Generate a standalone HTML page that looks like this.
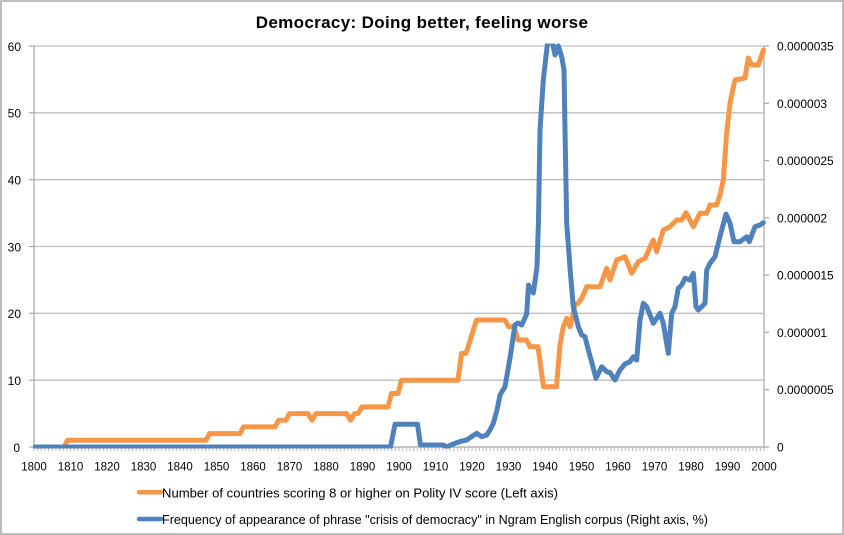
<!DOCTYPE html>
<html>
<head>
<meta charset="utf-8">
<style>
  html, body { margin: 0; padding: 0; background: #fff; }
  svg { display: block; }
  text { font-family: "Liberation Sans", sans-serif; fill: #000; }
</style>
</head>
<body>
<svg width="844" height="535" viewBox="0 0 844 535" xmlns="http://www.w3.org/2000/svg">
  <defs>
    <clipPath id="plot">
      <rect x="33" y="43.5" width="733" height="405"/>
    </clipPath>
    <pattern id="ticks" patternUnits="userSpaceOnUse" x="33.5" y="447" width="3.65" height="4">
      <rect x="0" y="0" width="1" height="4" fill="#b8b8b8"/>
    </pattern>
  </defs>

  <rect x="0" y="0" width="844" height="535" fill="#fff"/>
  <rect x="1" y="1" width="842" height="533" fill="none" stroke="#bdbdbd" stroke-width="2"/>

  <!-- Title -->
  <text x="422" y="28" text-anchor="middle" font-size="17" font-weight="bold" letter-spacing="0.35">Democracy: Doing better, feeling worse</text>

  <!-- gridlines -->
  <g stroke="#bfbfbf" stroke-width="1.3">
    <line x1="34" y1="46" x2="764" y2="46"/>
    <line x1="34" y1="112.8" x2="764" y2="112.8"/>
    <line x1="34" y1="179.7" x2="764" y2="179.7"/>
    <line x1="34" y1="246.5" x2="764" y2="246.5"/>
    <line x1="34" y1="313.3" x2="764" y2="313.3"/>
    <line x1="34" y1="380.2" x2="764" y2="380.2"/>
  </g>

  <!-- axes -->
  <g stroke="#a6a6a6" stroke-width="1.2">
    <line x1="34" y1="46" x2="34" y2="447"/>
    <line x1="764" y1="46" x2="764" y2="447"/>
    <line x1="33.5" y1="447" x2="764.5" y2="447"/>
    <line x1="29" y1="46" x2="34" y2="46"/>
    <line x1="29" y1="112.8" x2="34" y2="112.8"/>
    <line x1="29" y1="179.7" x2="34" y2="179.7"/>
    <line x1="29" y1="246.5" x2="34" y2="246.5"/>
    <line x1="29" y1="313.3" x2="34" y2="313.3"/>
    <line x1="29" y1="380.2" x2="34" y2="380.2"/>
    <line x1="29" y1="447" x2="34" y2="447"/>
    <line x1="764" y1="46" x2="769" y2="46"/>
    <line x1="764" y1="103.3" x2="769" y2="103.3"/>
    <line x1="764" y1="160.6" x2="769" y2="160.6"/>
    <line x1="764" y1="217.9" x2="769" y2="217.9"/>
    <line x1="764" y1="275.1" x2="769" y2="275.1"/>
    <line x1="764" y1="332.4" x2="769" y2="332.4"/>
    <line x1="764" y1="389.7" x2="769" y2="389.7"/>
    <line x1="764" y1="447" x2="769" y2="447"/>
  </g>
  <rect x="33.5" y="447.5" width="731.5" height="3.5" fill="url(#ticks)"/>

  <!-- left axis labels -->
  <g font-size="12" text-anchor="end">
    <text x="21" y="51">60</text>
    <text x="21" y="117.5">50</text>
    <text x="21" y="184.5">40</text>
    <text x="21" y="251.3">30</text>
    <text x="21" y="318">20</text>
    <text x="21" y="385">10</text>
    <text x="20" y="452">0</text>
  </g>

  <!-- right axis labels -->
  <g font-size="12" text-anchor="start">
    <text x="777" y="50.5">0.0000035</text>
    <text x="777" y="107.8">0.000003</text>
    <text x="777" y="165.1">0.0000025</text>
    <text x="777" y="222.4">0.000002</text>
    <text x="777" y="279.6">0.0000015</text>
    <text x="777" y="336.9">0.000001</text>
    <text x="777" y="394.2">0.0000005</text>
    <text x="777" y="451.5">0</text>
  </g>

  <!-- x axis labels -->
  <g font-size="11.5" text-anchor="middle">
    <text x="34" y="470.5">1800</text>
    <text x="70.5" y="470.5">1810</text>
    <text x="107" y="470.5">1820</text>
    <text x="143.5" y="470.5">1830</text>
    <text x="180" y="470.5">1840</text>
    <text x="216.5" y="470.5">1850</text>
    <text x="253" y="470.5">1860</text>
    <text x="289.5" y="470.5">1870</text>
    <text x="326" y="470.5">1880</text>
    <text x="362.5" y="470.5">1890</text>
    <text x="399" y="470.5">1900</text>
    <text x="435.5" y="470.5">1910</text>
    <text x="472" y="470.5">1920</text>
    <text x="508.5" y="470.5">1930</text>
    <text x="545" y="470.5">1940</text>
    <text x="581.5" y="470.5">1950</text>
    <text x="618" y="470.5">1960</text>
    <text x="654.5" y="470.5">1970</text>
    <text x="691" y="470.5">1980</text>
    <text x="727.5" y="470.5">1990</text>
    <text x="764" y="470.5">2000</text>
  </g>

  <!-- series -->
  <g clip-path="url(#plot)" fill="none" stroke-width="5" stroke-linejoin="round" stroke-linecap="round">
    <polyline stroke="#F79646" points="34,447 64,447 67.5,440.3 206,440.3 209.5,433.6 240,433.6 243.5,426.9 275,426.9 278.5,420.3 285.9,420.3 289.5,413.6 308,413.6 312,420.3 316,413.6 346.7,413.6 350.5,420.3 354.5,413.6 358,413.6 362,406.9 388,406.9 391.5,393.5 398,393.5 401.5,380.2 458,380.2 461.5,353.4 466,353.4 476.5,320 505,320 508.5,326.7 514,326.7 518,340 526.5,340 530,346.7 538,346.7 543.5,386.8 556.5,386.8 560,345 563.3,326.7 566.7,318.3 570,326.7 575,305 578.3,303 581.7,298.3 586.7,286.7 600,286.7 606.7,268.3 610,280 616.7,260 625,256.7 631.7,273.3 638.3,261.7 645,258.3 653.3,240 656.7,251.7 663.3,230 670,226.7 676.7,220 681.7,220 686,212.7 693.3,226.7 700,213.3 706.7,213.3 710,205 716.7,205 720,195 723.3,180 726.7,133 730,103 735,80 745,78 748.3,58 751.7,65 758.3,65 763.5,50"/>
    <polyline stroke="#4F81BD" points="34,447 390.5,447 395,424.3 417.5,424.3 420.5,445 443,445 447,447 451,445 456.7,442.7 462,441 466.7,440 471,437 476.7,433.3 481.7,436.7 486.7,435 490,430 493.3,423.3 497,410 500,395 505,386.7 510,358 515,325 518,323 521.7,325 526.7,314 528.5,285 531.7,291 533.3,293 537,267 538.5,220 540,130 543.3,80 546.7,50 548,40 552,40 555,55 558.3,46 561.7,56.7 564,70 565,130 566.7,223 570,268 573.3,306.7 578.3,326.7 581.7,335 585,336.7 588.3,350 591.7,362 596,378.3 601.7,366.7 606.7,371.7 610,372.7 615,380 620,370 625,364 630,361.7 633.3,356.7 636.7,360 640,320 643.3,303.3 646.7,306.7 653.3,323.3 660,313.3 663.3,323.3 668.3,353.3 671.7,313.3 675,306.7 678.3,288.3 681.7,285 685,278.3 690,280 693.3,273.3 696,306.7 698.3,310 701.7,306.7 705,303.3 706.7,270 710,263.3 715,256.7 718.3,243.3 721.7,230 726,214 730,223.3 734,241.7 740,241.7 746.7,236.7 749.3,241.7 755,226.7 760,225 763.3,222.7"/>
  </g>

  <!-- legend -->
  <line x1="139" y1="492.3" x2="161" y2="492.3" stroke="#F79646" stroke-width="4.5" stroke-linecap="round"/>
  <text x="162" y="497.5" font-size="13" textLength="396" lengthAdjust="spacingAndGlyphs">Number of countries scoring 8 or higher on Polity IV score (Left axis)</text>
  <line x1="139" y1="519" x2="161" y2="519" stroke="#4F81BD" stroke-width="4.5" stroke-linecap="round"/>
  <text x="162" y="524" font-size="13" textLength="546" lengthAdjust="spacingAndGlyphs">Frequency of appearance of phrase "crisis of democracy" in Ngram English corpus (Right axis, %)</text>
</svg>
</body>
</html>
